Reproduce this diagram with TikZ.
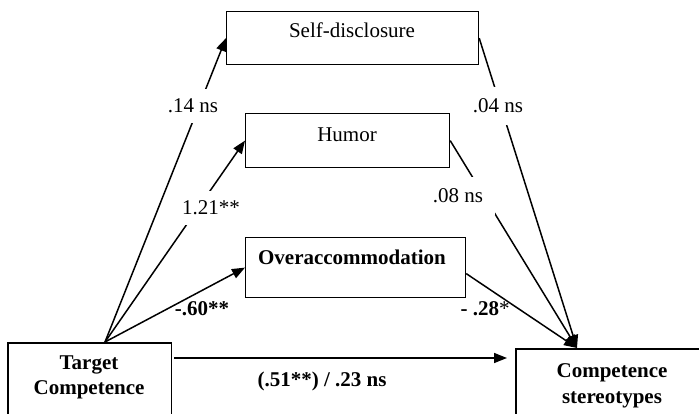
\documentclass[tikz,border=0pt]{standalone}
\usepackage{fontspec}
\setmainfont{Liberation Serif}
\usetikzlibrary{arrows.meta,calc}
\begin{document}
\begin{tikzpicture}[x=1pt,y=-1pt,
  box/.style={draw,line width=1.2pt,inner sep=0pt,anchor=north west},
  txt/.style={anchor=base,inner sep=0pt,font=\fontsize{21}{25}\selectfont},
  btxt/.style={anchor=base,inner sep=0pt,font=\fontsize{21}{25}\selectfont\bfseries},
  gap/.style={txt,fill=white,inner sep=10pt},
  arr/.style={line width=1.5pt,-{Triangle[length=13pt,width=10pt]}}]
\useasboundingbox (0,0) rectangle (699,414);
\fill[white] (0,0) rectangle (699,414);
% boxes
\node[box,minimum width=252pt,minimum height=53pt] (sd) at (226,11) {};
\node[box,minimum width=204pt,minimum height=54pt] (hu) at (245,113) {};
\node[box,minimum width=220pt,minimum height=60pt] (ov) at (245,237) {};
\node[anchor=north west,inner sep=0pt,minimum width=163pt,minimum height=71pt] (tc) at (8,343) {};
\node[anchor=north west,inner sep=0pt,minimum width=183pt,minimum height=65pt] (cs) at (516,349) {};
\draw[line width=1.2pt] (tc.south west) -- (tc.north west) -- (tc.north east) -- (tc.south east);
\draw[line width=1.2pt] (cs.south west) -- (cs.north west) -- (cs.north east);
% box texts
\node[txt] (sdt) at (352,38) {Self-disclosure};
\node[txt] (hut) at (347,142) {Humor};
\node[btxt] (ovt) at (352,265) {Overaccommodation};
\node[btxt] (tct1) at (89,369) {Target};
\node[btxt] (tct2) at (89,394) {Competence};
\node[btxt] (cst1) at (612,377) {Competence};
\node[btxt] (cst2) at (612,403) {stereotypes};
% connectors
\coordinate (tcs) at (105,342);
\coordinate (cst) at (577,348);
\coordinate (d1) at (174,358);
\coordinate (d2) at (507,358);
\draw[arr] (tcs) -- (sd.west);
\draw[arr] (tcs) -- (hu.west);
\draw[arr] (tcs) -- (ov.west);
\draw[arr] (sd.east) -- (cst);
\draw[arr] (hu.east) -- (cst);
\draw[arr] ($(ov.east)+(0,6)$) -- (cst);
\draw[arr] (d1) -- (d2);
% labels
\node[gap] (l1) at (193,113) {.14 ns};
\node[gap] (l2) at (211,215) {1.21**};
\node[btxt] (l3) at (202,316) {-.60**};
\node[gap,inner sep=12pt] (l4) at (498,113) {.04 ns};
\node[gap,inner sep=12pt] (l5) at (458,203) {.08 ns};
\node[btxt] (l6) at (485,316) {- .28\mdseries*};
\node[btxt] (l7) at (322,386) {(.51**) / .23 ns};
\end{tikzpicture}
\end{document}
